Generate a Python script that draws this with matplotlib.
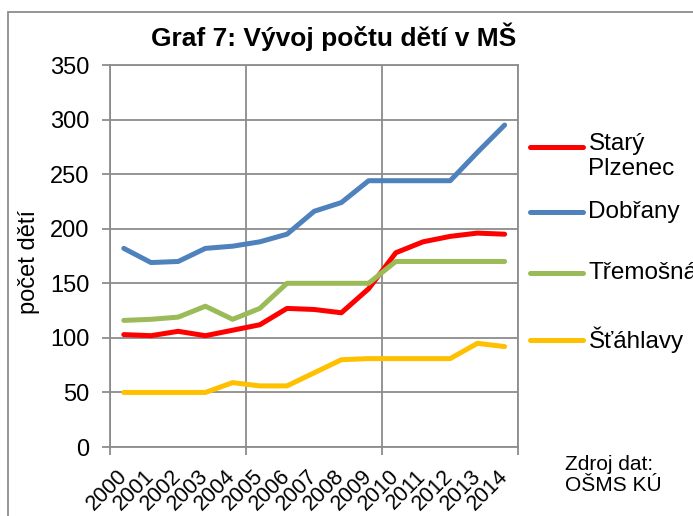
import matplotlib.pyplot as plt
from matplotlib.lines import Line2D
from matplotlib.patches import Rectangle

plt.rcParams['font.family'] = ['Liberation Sans', 'DejaVu Sans']

# data
years = ['2000', '2001', '2002', '2003', '2004', '2005', '2006', '2007',
         '2008', '2009', '2010', '2011', '2012', '2013', '2014']
stary_plzenec = [103, 102, 106, 102, 107, 112, 127, 126, 123, 145, 178, 188, 193, 196, 195]
dobrany = [182, 169, 170, 182, 184, 188, 195, 216, 224, 244, 244, 244, 244, 270, 295]
tremosna = [116, 117, 119, 129, 117, 127, 150, 150, 150, 150, 170, 170, 170, 170, 170]
stahlavy = [50, 50, 50, 50, 59, 56, 56, 68, 80, 81, 81, 81, 81, 95, 92]

names = ['Starý\nPlzenec', 'Dobřany', 'Třemošná', 'Šťáhlavy']
colors = ['#FF0000', '#4F81BD', '#9BBB59', '#FFC000']
series = [stary_plzenec, dobrany, tremosna, stahlavy]
legend_y = [0.785, 0.615, 0.455, 0.280]

grid_c = '#8C8C8C'

fig = plt.figure(figsize=(6.93, 5.16), dpi=100)
ax = fig.add_axes([0.159, 0.1337, 0.5888, 0.7403])

x = list(range(len(years)))
for vals, c in zip(series, colors):
    ax.plot(x, vals, color=c, lw=3.6, solid_capstyle='round', zorder=3)

ax.set_xlim(-0.5, len(years) - 0.5)
ax.set_ylim(0, 350)
ax.set_yticks(range(0, 351, 50))
ax.set_xticks([-0.5, 4.5, 9.5, 14.5])
ax.set_xticklabels([])
ax.set_xticks(x, labels=years, minor=True)
ax.tick_params(axis='x', which='minor', length=0, pad=19, labelsize=15.5)
ax.tick_params(axis='x', which='major', length=6, width=1.3, color=grid_c)
ax.tick_params(axis='y', length=6, width=1.3, color=grid_c, pad=9, labelsize=17)
for lab in ax.get_xticklabels(minor=True):
    lab.set_rotation(45)
    lab.set_ha('right')
    lab.set_va('center')
    lab.set_rotation_mode('anchor')

ax.grid(True, which='major', color=grid_c, lw=1.3)
ax.set_axisbelow(True)
for s in ax.spines.values():
    s.set_color(grid_c)
    s.set_linewidth(1.3)

ax.set_ylabel('počet dětí', fontsize=17)
ax.yaxis.set_label_coords(-0.172, 0.484)

fig.text(0.481, 0.911, 'Graf 7: Vývoj počtu dětí v MŠ', fontsize=19,
         fontweight='bold', ha='center', va='baseline')

# legend on the right (the reference cuts "Třemošná" at the edge too)
for name, c, ly in zip(names, colors, legend_y):
    ax.add_line(Line2D([1.029, 1.159], [ly, ly], transform=ax.transAxes,
                       color=c, lw=3.6, solid_capstyle='round', clip_on=False))
    if '\n' in name:
        ax.text(1.172, ly + 0.036, name, transform=ax.transAxes, fontsize=17.5,
                ha='left', va='top', linespacing=1.15)
    else:
        ax.text(1.172, ly, name, transform=ax.transAxes, fontsize=17.5,
                ha='left', va='center')

fig.text(0.815, 0.118, 'Zdroj dat:\nOŠMS KÚ', fontsize=15, ha='left', va='top',
         linespacing=1.15)

fig.add_artist(Rectangle((8 / 693, -0.1), 1.2, 1.1 - 12 / 516, transform=fig.transFigure,
                         fill=False, ec=grid_c, lw=1.3))

fig.savefig('out.png', dpi=100)
